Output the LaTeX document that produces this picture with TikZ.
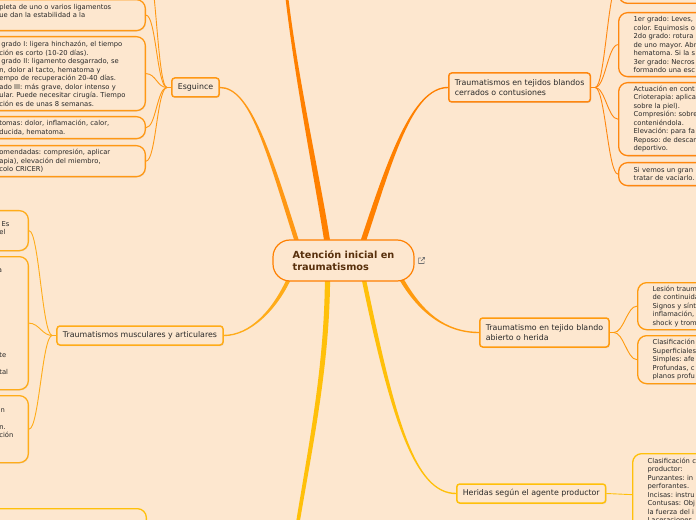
\documentclass[tikz,border=0pt]{standalone}
\usepackage{fontspec}
\setmainfont{DejaVu Sans}
\usetikzlibrary{calc,shadows}
\frenchspacing

\definecolor{paper}{RGB}{253,231,207}
\definecolor{rootink}{RGB}{88,48,12}
\definecolor{ink}{RGB}{40,40,40}
\definecolor{deep}{RGB}{255,128,0}
\definecolor{esgc}{RGB}{255,152,20}
\definecolor{cerc}{RGB}{255,135,15}
\definecolor{musc}{RGB}{255,172,25}
\definecolor{abic}{RGB}{255,155,15}
\definecolor{herc}{RGB}{255,192,10}

\pgfdeclarelayer{backdrop}
\pgfdeclarelayer{wires}
\pgfsetlayers{backdrop,wires,main}

\newcommand{\limb}[7]{%
  \fill[#1] ($#2+#6$) .. controls ($#3+#6$) and ($#4+#7$) .. ($#5+#7$)
    -- ($#5-#7$) .. controls ($#4-#7$) and ($#3-#6$) .. ($#2-#6$) -- cycle;}

\begin{document}
\begin{tikzpicture}[x=1bp,y=-1bp,
    topic/.style={draw=#1, line width=1.5bp, fill=paper, rounded corners=3bp,
      inner xsep=6bp, inner ysep=2bp, minimum height=19bp, align=left, text=ink,
      font=\fontsize{7.9}{10.4}\selectfont,
      drop shadow={opacity=0.18, shadow xshift=0.8bp, shadow yshift=-1bp}},
    leaf/.style={draw=#1, line width=1.3bp, fill=paper, rounded corners=9bp,
      inner xsep=15bp, inner ysep=2bp, align=left, text=ink,
      font=\fontsize{6.8}{8.55}\selectfont,
      drop shadow={opacity=0.18, shadow xshift=0.6bp, shadow yshift=-0.9bp}},
    twig/.style={draw=#1, line width=0.9bp}]

  \useasboundingbox (0,0) rectangle (696,520);
  \begin{pgfonlayer}{backdrop}
    \fill[paper] (0,0) rectangle (696,520);
  \end{pgfonlayer}

  \node (root) [draw=deep, line width=1.2bp, fill=paper, rounded corners=17bp,
    minimum width=141bp, minimum height=41bp, align=left, text=rootink,
    font=\bfseries\fontsize{9.8}{12}\selectfont] at (343.5,260.5)
    {Atención inicial en\\traumatismos};

  \node (esg) [topic=esgc] at (195.5,87.5) {Esguince};
  \node (cer) [topic=cerc, anchor=west, minimum height=29bp] at (448,87.5)
    {Traumatismos en tejidos blandos\\cerrados o contusiones};
  \node (mus) [topic=musc] at (140,335.5) {Traumatismos musculares y articulares};
  \node (abi) [topic=abic, anchor=west, minimum height=29bp] at (479,332.5)
    {Traumatismo en tejido blando\\abierto o herida};
  \node (her) [topic=herc, anchor=west] at (456,493.5) {Heridas según el agente productor};

  \node (e1) [leaf=esgc, anchor=north east, text width=131bp, minimum height=31bp] at (146,-1)
    {pleta de uno o varios ligamentos\\ue dan la estabilidad a la\\~};
  \node (e2) [leaf=esgc, anchor=north east, text width=131bp, minimum height=74bp] at (146,36)
    {\hspace*{2bp}grado I: ligera hinchazón, el tiempo\\ción es corto (10-20 días).\\
     \hspace*{2bp}grado II: ligamento desgarrado, se\\n, dolor al tacto, hematoma y\\
     empo de recuperación 20-40 días.\\ado III: más grave, dolor intenso y\\
     ular. Puede necesitar cirugía. Tiempo\\ción es de unas 8 semanas.};
  \node (e3) [leaf=esgc, anchor=north east, text width=131bp, minimum height=22bp] at (146,116)
    {tomas: dolor, inflamación, calor,\\ducida, hematoma.};
  \node (e4) [leaf=esgc, anchor=north east, text width=131bp, minimum height=31bp] at (146,145)
    {omendadas: compresión, aplicar\\apia), elevación del miembro,\\colo CRICER)};
  \coordinate (e0) at (146,-40);

  \node (m1) [leaf=musc, anchor=north east, text width=14bp, minimum height=40bp] at (29,210)
    {~\\~Es\\el\\~};
  \node (m2) [leaf=musc, anchor=north east, text width=14bp, minimum height=133bp] at (29,256)
    {~\\\hspace*{-1.5bp}a\\~\\~\\~\\~\\~\\~\\~\\~\\~\\te\\~\\tal\\~};
  \node (m3) [leaf=musc, anchor=north east, text width=14bp, minimum height=67bp] at (29,395)
    {~\\\hspace*{-3bp}un\\~\\n.\\ción\\~\\~};

  \node (c1) [leaf=cerc, anchor=south west, text width=150bp, minimum height=40bp] at (618,4) {};
  \node (c2) [leaf=cerc, anchor=north west, text width=150bp, minimum height=64bp] at (618,12)
    {1er grado: Leves,\\color. Equimosis o\\2do grado: rotura\\de uno mayor. Abr\\
     hematoma. Si la s\\3er grado: Necros\\formando una esc};
  \node (c3) [leaf=cerc, anchor=north west, text width=150bp, minimum height=73bp] at (618,82)
    {Actuación en cont\\Crioterapia: aplica\\sobre la piel).\\Compresión: sobre\\
     conteniéndola.\\Elevación: para fa\\Reposo: de descar\\deportivo.};
  \node (c4) [leaf=cerc, anchor=north west, text width=150bp, minimum height=23bp] at (618,162)
    {Si vemos un gran\\tratar de vaciarlo.};

  \node (a1) [leaf=abic, anchor=north west, text width=150bp, minimum height=47bp] at (637,282)
    {Lesión traum\\de continuida\\Signos y sínt\\inflamación,\\shock y trom};
  \node (a2) [leaf=abic, anchor=north west, text width=150bp, minimum height=48bp] at (637,335)
    {Clasificación\\Superficiales\\Simples: afe\\Profundas, c\\planos profu};

  \node (h1) [leaf=herc, anchor=north west, text width=150bp, minimum height=82bp] at (632,453)
    {Clasificación c\\productor:\\Punzantes: in\\perforantes.\\Incisas: instru\\
     Contusas: Obj\\la fuerza del i\\Laceraciones\\~};
  \node (bl) [leaf=herc, anchor=north east, minimum width=200bp, minimum height=40bp] at (147,508) {};

  \coordinate (topend) at (284,-30);
  \coordinate (botend) at (292,560);

  \begin{pgfonlayer}{wires}
    \limb{deep}{(root.north)+(-16,4)}{(318,180)}{(292,60)}{(topend)}{(3,0)}{(1.4,0)}
    \limb{esgc}{(root.north)+(-46,4)}{(268,150)}{(250,87.5)}{(esg.east)}{(2.3,0)}{(0,-0.7)}
    \limb{deep}{(root.north)+(19,4)}{(390,160)}{(412,87.5)}{(cer.west)}{(2.8,0)}{(0,0.7)}
    \limb{musc}{(root.south)+(-54,-4)}{(275,310)}{(250,335.5)}{(mus.east)}{(-2.2,0)}{(0,-0.7)}
    \limb{herc}{(root.south)+(-16,-4)}{(327,380)}{(305,470)}{(botend)}{(2.6,0)}{(1.8,0)}
    \limb{herc}{(root.south)+(20,-4)}{(393,420)}{(415,493.5)}{(her.west)}{(-2.2,0)}{(0,0.7)}
    \limb{abic}{(root.south)+(57,-4)}{(420,312)}{(445,332.5)}{(abi.west)}{(-2.4,0)}{(0,0.7)}

    \draw[twig=esgc] (esg.west) -- ++(-4,0) .. controls +(-10,0) and +(10,0) .. (e0);
    \foreach \kid in {e1,e2,e3,e4}
      \draw[twig=esgc] (esg.west) -- ++(-4,0) .. controls +(-10,0) and +(10,0) .. (\kid.east);
    \foreach \kid in {m1,m2,m3}
      \draw[twig=musc] (mus.west) -- ++(-4,0) .. controls +(-10,0) and +(10,0) .. (\kid.east);
    \foreach \kid in {c1,c2,c3,c4}
      \draw[twig=cerc] (cer.east) -- ++(4,0) .. controls +(10,0) and +(-10,0) .. (\kid.west);
    \foreach \kid in {a1,a2}
      \draw[twig=abic] (abi.east) -- ++(4,0) .. controls +(10,0) and +(-10,0) .. (\kid.west);
    \draw[twig=herc] (her.east) -- (h1.west);
  \end{pgfonlayer}

  \draw[shift={(root.east)}, draw=black!55, line width=0.6bp]
    (6.5,-2.5) -- (4,-2.5) -- (4,3) -- (9.5,3) -- (9.5,0.5)
    (6.5,0.5) -- (10,-3) (8,-3) -- (10,-3) -- (10,-1);
\end{tikzpicture}
\end{document}
